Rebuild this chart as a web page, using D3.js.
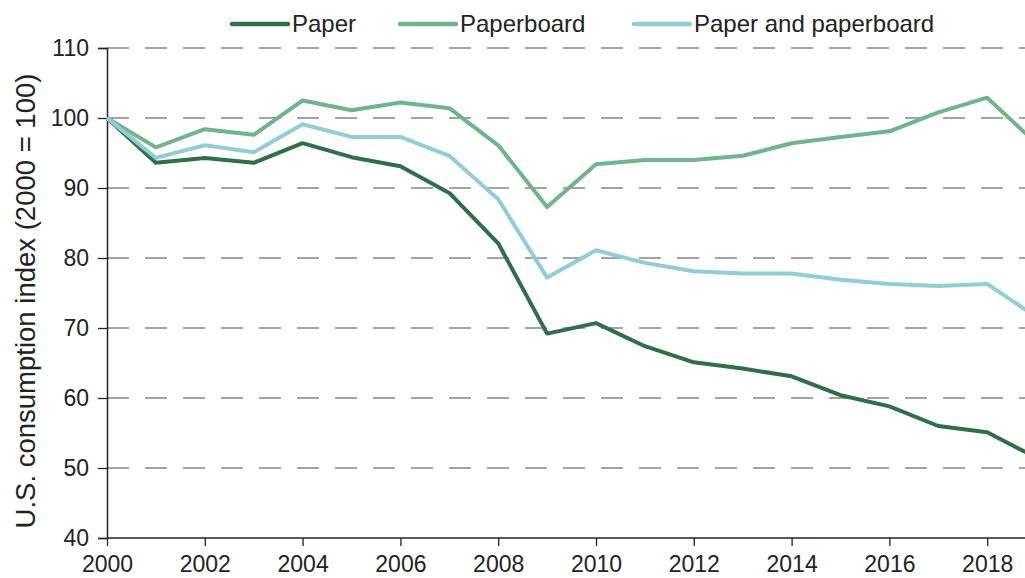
<!DOCTYPE html>
<html>
<head>
<meta charset="utf-8">
<script src="https://cdn.jsdelivr.net/npm/d3@7"></script>
<style>
  body { margin: 0; background: #fff; }
  text { font-family: "Liberation Sans", Arial, sans-serif; fill: #222; }
</style>
</head>
<body>
<div id="chart"></div>
<script>
// data, index 2000 = 100
var years = d3.range(2000, 2020);
var paper = [100, 93.6, 94.3, 93.6, 96.4, 94.4, 93.1, 89.3, 82.1, 69.2, 70.7, 67.4, 65.1, 64.2, 63.1, 60.4, 58.8, 56.0, 55.1, 51.5];
var paperboard = [100, 95.8, 98.4, 97.6, 102.5, 101.1, 102.2, 101.4, 96.1, 87.3, 93.4, 94.0, 94.0, 94.6, 96.4, 97.3, 98.1, 100.8, 102.9, 96.4];
var combined = [100, 94.3, 96.1, 95.1, 99.1, 97.3, 97.3, 94.6, 88.4, 77.2, 81.1, 79.3, 78.1, 77.8, 77.8, 76.9, 76.3, 76.0, 76.3, 71.6];
var seriesNames = ['Paper', 'Paperboard', 'Paper and paperboard'];
var yTicks = [40, 50, 60, 70, 80, 90, 100, 110];
var xTicks = [2000, 2002, 2004, 2006, 2008, 2010, 2012, 2014, 2016, 2018];

var colors = ['#2e6f47', '#6fb58a', '#90cdd8'];
var allSeries = [paper, paperboard, combined];

var width = 1025,
    height = 578,
    svg = d3.select('#chart')
        .append('svg')
        .attr('width', width)
        .attr('height', height);

var x = d3.scaleLinear().domain([2000, 2019]).range([107, 107 + 19 * 48.9]),
    y = d3.scaleLinear().domain([40, 110]).range([538, 48]);

// dashed grid
svg.selectAll('line.grid')
    .data(yTicks.filter(function (d) { return d > 40; }))
    .enter()
    .append('line')
    .attr('class', 'grid')
    .attr('x1', 107)
    .attr('x2', width)
    .attr('y1', function (d) { return y(d); })
    .attr('y2', function (d) { return y(d); })
    .attr('stroke', '#a3a3a3')
    .attr('stroke-width', 2)
    .attr('stroke-dasharray', '22,16');

// axes
var yAxis = svg.append('g')
    .attr('transform', 'translate(107,0)')
    .call(d3.axisLeft(y).tickValues(yTicks).tickSize(9).tickPadding(9));
var xAxis = svg.append('g')
    .attr('transform', 'translate(0,538)')
    .call(d3.axisBottom(x).tickValues(xTicks).tickFormat(d3.format('d')).tickSize(8).tickPadding(10));

[yAxis, xAxis].forEach(function (g) {
    g.select('.domain').attr('stroke', '#222').attr('stroke-width', 1.5);
    g.selectAll('.tick line').attr('stroke', '#222').attr('stroke-width', 1.3);
    g.selectAll('.tick text')
        .style('font-family', '"Liberation Sans", Arial, sans-serif')
        .attr('font-size', 23)
        .attr('fill', '#222');
});
xAxis.select('.domain').attr('d', 'M107,0H' + width);

svg.append('text')
    .attr('transform', 'translate(35,301) rotate(-90)')
    .attr('text-anchor', 'middle')
    .attr('font-size', 27.5)
    .text('U.S. consumption index (2000 = 100)');

// lines
var line = d3.line()
    .x(function (d, i) { return x(years[i]); })
    .y(function (d) { return y(d); });

svg.selectAll('path.series')
    .data(allSeries)
    .enter()
    .append('path')
    .attr('class', 'series')
    .attr('d', line)
    .attr('fill', 'none')
    .attr('stroke', function (d, i) { return colors[i]; })
    .attr('stroke-width', 4)
    .attr('stroke-linejoin', 'round');

// legend
var legendX = [232, 400, 634];
var legend = svg.selectAll('g.legend')
    .data(seriesNames)
    .enter()
    .append('g')
    .attr('class', 'legend')
    .attr('transform', function (d, i) { return 'translate(' + legendX[i] + ',0)'; });

legend.append('line')
    .attr('x1', 0).attr('x2', 56)
    .attr('y1', 24).attr('y2', 24)
    .attr('stroke', function (d, i) { return colors[i]; })
    .attr('stroke-width', 4.5)
    .attr('stroke-linecap', 'round');

legend.append('text')
    .attr('x', 60)
    .attr('y', 32)
    .attr('font-size', 24)
    .text(function (d) { return d; });
</script>
</body>
</html>
